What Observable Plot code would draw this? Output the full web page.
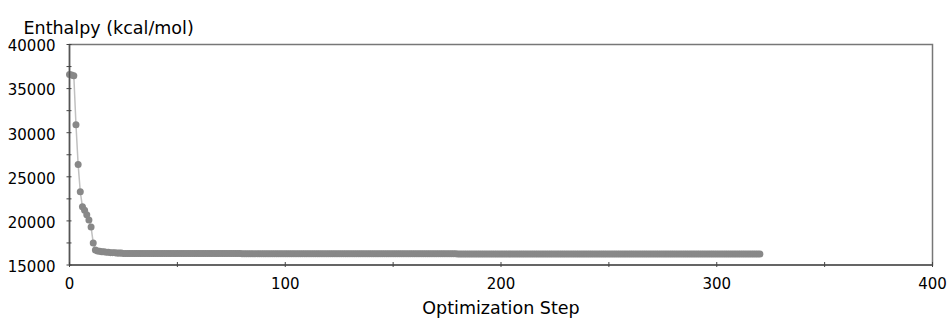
<!DOCTYPE html>
<html><head><meta charset="utf-8">
<script src="https://cdn.jsdelivr.net/npm/d3@7"></script>
<script src="https://cdn.jsdelivr.net/npm/@observablehq/plot@0.6"></script>
<style>body{margin:0;background:#fff}</style>
</head><body><div id="chart"></div>
<script>
// Enthalpy per optimization step (index = step), steps 0..24
const enthalpyHead = [
  36600, 36550, 36450, 30900, 26400, 23300, 21600, 21200, 20700, 20100,
  19300, 17500, 16700, 16600, 16550, 16500, 16500, 16450, 16450, 16400,
  16400, 16400, 16350, 16350, 16350
];
// steps 25..320
const enthalpyPlateau = [
  16300, 16300, 16300, 16300, 16300, 16300, 16300, 16300, 16300, 16300,
  16300, 16300, 16300, 16300, 16300, 16300, 16300, 16300, 16300, 16300,
  16300, 16300, 16300, 16300, 16300, 16300, 16300, 16300, 16300, 16300,
  16300, 16300, 16300, 16300, 16300, 16300, 16300, 16300, 16300, 16300,
  16300, 16300, 16300, 16300, 16300, 16300, 16300, 16300, 16300, 16300,
  16300, 16300, 16300, 16300, 16300,
  16270, 16270, 16270, 16270, 16270, 16270, 16270, 16270, 16270, 16270,
  16270, 16270, 16270, 16270, 16270, 16270, 16270, 16270, 16270, 16270,
  16270, 16270, 16270, 16270, 16270, 16270, 16270, 16270, 16270, 16270,
  16270, 16270, 16270, 16270, 16270, 16270, 16270, 16270, 16270, 16270,
  16270, 16270, 16270, 16270, 16270, 16270, 16270, 16270, 16270, 16270,
  16270, 16270, 16270, 16270, 16270, 16270, 16270, 16270, 16270, 16270,
  16270, 16270, 16270, 16270, 16270, 16270, 16270, 16270, 16270, 16270,
  16270, 16270, 16270, 16270, 16270, 16270, 16270, 16270, 16270, 16270,
  16270, 16270, 16270, 16270, 16270, 16270, 16270, 16270, 16270, 16270,
  16270, 16270, 16270, 16270, 16270, 16270, 16270, 16270, 16270, 16270,
  16240, 16240, 16240, 16240, 16240, 16240, 16240, 16240, 16240, 16240,
  16240, 16240, 16240, 16240, 16240, 16240, 16240, 16240, 16240, 16240,
  16240, 16240, 16240, 16240, 16240, 16240, 16240, 16240, 16240, 16240,
  16240, 16240, 16240, 16240, 16240, 16240, 16240, 16240, 16240, 16240,
  16240, 16240, 16240, 16240, 16240, 16240, 16240, 16240, 16240, 16240,
  16240, 16240, 16240, 16240, 16240, 16240, 16240, 16240, 16240, 16240,
  16240, 16240, 16240, 16240, 16240, 16240, 16240, 16240, 16240, 16240,
  16240, 16240, 16240, 16240, 16240, 16240, 16240, 16240, 16240, 16240,
  16240, 16240, 16240, 16240, 16240, 16240, 16240, 16240, 16240, 16240,
  16240, 16240, 16240, 16240, 16240, 16240, 16240, 16240, 16240, 16240,
  16240, 16240, 16240, 16240, 16240, 16240, 16240, 16240, 16240, 16240,
  16240, 16240, 16240, 16240, 16240, 16240, 16240, 16240, 16240, 16240,
  16240, 16240, 16240, 16240, 16240, 16240, 16240, 16240, 16240, 16240,
  16240, 16240, 16240, 16240, 16240, 16240, 16240, 16240, 16240, 16240,
  16240
];
const yTickValues = [15000, 17500, 20000, 22500, 25000, 27500, 30000, 32500, 35000, 37500, 40000];
const yLabelValues = [15000, 20000, 25000, 30000, 35000, 40000];
const xTickValues = [0, 50, 100, 150, 200, 250, 300, 350, 400];
const xLabelValues = [0, 100, 200, 300, 400];
const yTitle = "Enthalpy (kcal/mol)";
const xTitle = "Optimization Step";

const enthalpy = enthalpyHead.concat(enthalpyPlateau);
const data = enthalpy.map((v, i) => ({step: i, value: v}));

const chart = Plot.plot({
  width: 948,
  height: 324,
  marginLeft: 69,
  marginRight: 16,
  marginTop: 44,
  marginBottom: 59.5,
  style: {fontFamily: "DejaVu Sans", fontSize: "15px", color: "#000", background: "#fff"},
  x: {domain: [0, 400]},
  y: {domain: [15000, 40000]},
  marks: [
    Plot.frame({stroke: "#777", strokeWidth: 1.5}),
    Plot.line(data, {x: "step", y: "value", stroke: "#c0c0c0", strokeWidth: 1.5}),
    Plot.dot(data, {x: "step", y: "value", r: 3.5, fill: "#888", stroke: null}),
    Plot.ruleX([0], {stroke: "#555", strokeWidth: 1.5}),
    Plot.ruleY([15000], {stroke: "#555", strokeWidth: 1.5}),
    Plot.axisY({ticks: yTickValues, tickSize: 5, dx: 2.5, fill: "none", stroke: "#444", label: null, tickFormat: d => String(d)}),
    Plot.axisY({ticks: yLabelValues, tickSize: 0, tickPadding: 14, dy: 2, label: null, fill: "#000", tickFormat: d => String(d)}),
    Plot.axisX({ticks: xTickValues, tickSize: 5, dy: -2.5, fill: "none", stroke: "#444", label: null, tickFormat: d => String(d)}),
    Plot.axisX({ticks: xLabelValues, tickSize: 0, tickPadding: 13, label: null, fill: "#000", tickFormat: d => String(d)}),
    Plot.text([yTitle], {text: d => d, frameAnchor: "top-left", textAnchor: "start", dx: -46, dy: -23, fontSize: 17.5, fill: "#000"}),
    Plot.text([xTitle], {text: d => d, frameAnchor: "bottom", dy: 49, fontSize: 17.5, fill: "#000"})
  ]
});
document.getElementById("chart").appendChild(chart);
</script>
</body></html>
